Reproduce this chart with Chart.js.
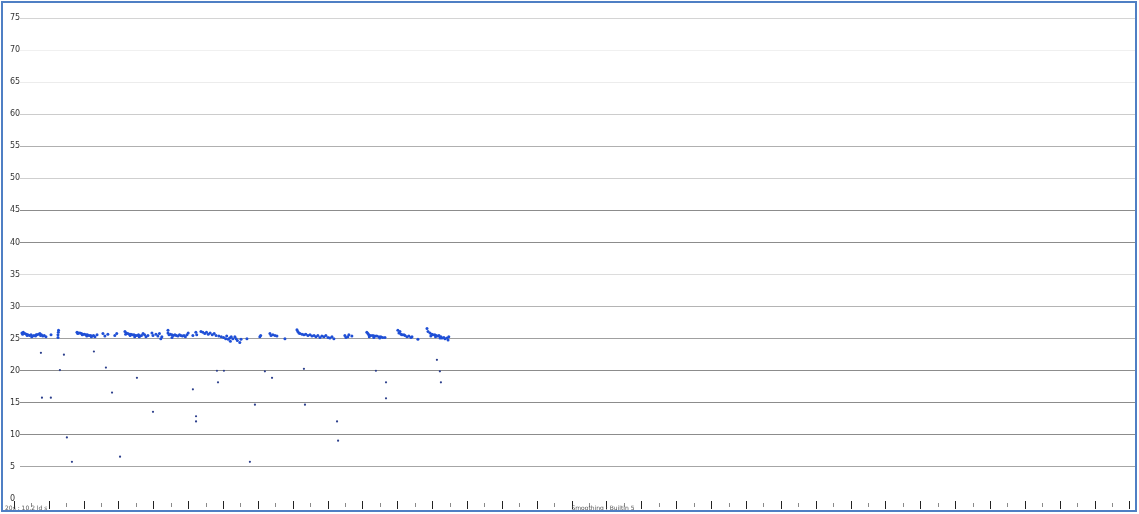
<!DOCTYPE html>
<html>
<head>
<meta charset="utf-8">
<script src="https://cdn.jsdelivr.net/npm/chart.js@4.4.1/dist/chart.umd.min.js"></script>
<style>
  html, body { margin: 0; padding: 0; background: #fff; }
  #wrap { position: relative; width: 1139px; height: 514px; }
  #frame { position: absolute; left: 1px; top: 1px; width: 1136px; height: 511px; border: 2px solid #4f7fc4; box-sizing: border-box; pointer-events: none; }
  canvas { position: absolute; left: 0; top: 0; }
</style>
</head>
<body>
<div id="wrap">
  <canvas id="trace" width="1139" height="514"></canvas>
  <div id="frame"></div>
</div>
<script>
// main band of readings, [sample, value]
const bandPoints = [
  [4.6,25.9],[5.4,26.0],[6.3,25.8],[7.2,25.7],[8.0,25.6],[9.0,25.5],[9.8,25.6],[10.7,25.4],[11.5,25.5],
  [12.4,25.4],[13.2,25.6],[14.1,25.7],[14.9,25.8],[15.8,25.6],[16.6,25.4],[17.4,25.5],[18.4,25.3],
  [5.0,25.7],[7.6,25.5],[10.2,25.3],[12.8,25.6],[15.3,25.5],
  [21.3,25.6],[25.3,25.2],[25.3,25.6],[25.5,26.0],[25.6,26.3],
  [36.2,26.0],[37.0,25.9],[37.9,25.9],[38.8,25.8],[39.6,25.7],[40.5,25.7],[41.4,25.6],[42.2,25.6],
  [43.1,25.5],[44.0,25.5],[44.8,25.4],[45.7,25.5],[46.5,25.3],[47.7,25.6],
  [36.6,25.8],[39.2,25.6],[41.8,25.4],[44.4,25.3],
  [51.1,25.8],[52.2,25.4],[53.9,25.7],[57.9,25.5],[59.0,25.8],
  [63.7,26.1],[64.5,25.9],[65.4,25.8],[66.3,25.7],[67.1,25.7],[68.0,25.6],[68.9,25.6],[69.7,25.5],
  [70.6,25.5],[71.5,25.6],[72.3,25.4],[73.2,25.5],[74.1,25.8],[75.0,25.6],[75.8,25.3],[76.9,25.5],
  [64.1,25.7],[66.7,25.5],[69.3,25.3],[71.9,25.3],
  [79.2,25.9],[79.8,25.5],[81.5,25.7],[82.6,25.4],[83.5,25.8],[84.9,25.3],[84.3,25.0],[90.7,25.2],
  [88.4,26.3],[88.4,25.9],[89.0,25.6],[89.8,25.7],[90.7,25.6],[91.5,25.5],[92.4,25.6],[93.2,25.5],
  [94.1,25.4],[95.0,25.6],[95.8,25.5],[96.7,25.4],[97.6,25.5],[98.4,25.3],[99.3,25.6],[100.0,25.9],
  [102.7,25.5],[104.4,26.0],[104.9,25.6],[107.3,26.1],
  [108.4,26.0],[109.5,25.8],[110.5,26.0],[111.5,25.7],[112.6,25.9],[113.8,25.6],[114.9,25.8],
  [116.0,25.5],[117.6,25.4],[119.0,25.3],
  [120.3,25.2],[121.5,25.0],[122.1,25.4],[123.0,24.9],[123.8,25.1],[124.7,25.3],[125.6,25.0],[124.2,24.6],
  [126.8,25.3],[127.5,25.0],[128.2,24.7],[129.6,24.4],[130.3,24.9],
  [133.7,25.0],[141.1,25.3],[141.6,25.5],
  [146.9,25.8],[147.5,25.5],[148.6,25.6],[149.8,25.5],[150.9,25.4],[155.5,25.0],
  [162.4,26.4],[162.9,26.1],[163.5,25.9],[164.1,25.8],[165.3,25.7],[166.4,25.6],[167.5,25.7],
  [168.7,25.5],[169.9,25.6],[171.0,25.4],[172.2,25.5],[173.3,25.3],[174.4,25.5],[175.6,25.2],
  [176.7,25.4],[177.9,25.3],[179.0,25.5],[180.2,25.2],[181.3,25.1],[182.5,25.3],[183.6,25.0],
  [189.9,25.5],[190.5,25.2],[191.6,25.3],[192.2,25.6],[193.9,25.4],
  [202.5,26.0],[203.1,25.8],[203.6,25.6],[204.8,25.5],[206.0,25.5],[207.1,25.4],[208.2,25.4],
  [209.4,25.3],[210.5,25.3],[211.6,25.2],[212.9,25.2],
  [203.9,25.3],[206.5,25.2],[209.9,25.1],
  [220.3,26.3],[220.9,25.9],[221.5,26.1],[222.1,25.7],[222.7,25.6],[223.8,25.6],[224.4,25.5],
  [225.5,25.3],[226.6,25.4],[227.8,25.2],[228.4,25.3],[231.8,24.9],
  [237.0,26.6],[237.6,26.1],[238.7,25.9],[239.8,25.7],[240.4,25.6],[241.5,25.6],[242.2,25.5],
  [243.3,25.4],[243.9,25.5],[245.0,25.3],[245.6,25.1],[246.7,25.2],[247.3,25.0],[248.5,25.1],
  [249.1,24.8],[249.5,25.3],
  [239.2,25.4],[241.9,25.3],[244.5,25.1]
];

// scattered low readings, [sample, value]
const outlierPoints = [
  [15.5,22.8],[16.1,15.8],[21.2,15.8],[26.4,20.1],[28.7,22.5],[30.4,9.6],[33.3,5.8],
  [45.9,23.0],[52.8,20.5],[56.3,16.6],[60.9,6.6],[70.6,18.9],[79.8,13.6],
  [102.7,17.1],[104.5,12.9],[104.5,12.1],[116.5,20.0],[117.1,18.2],[120.5,20.0],
  [135.4,5.8],[138.3,14.7],[144.0,19.9],[148.1,18.9],[166.4,20.3],[167.0,14.7],
  [185.4,12.1],[186.0,9.1],[207.7,20.0],[213.5,18.2],[213.5,15.7],
  [242.7,21.7],[244.4,19.9],[245.0,18.2]
];

// gridline shade for each 5-step of the value axis, 0 to 75
const gridShades = [
  "rgba(0,0,0,0)", "#a6a6a6", "#8c8c8c", "#8c8c8c", "#8c8c8c", "#a0a0a0", "#b4b4b4", "#dcdcdc",
  "#8c8c8c", "#8c8c8c", "#cfcfcf", "#b0b0b0", "#cccccc", "#ececec", "#f0f0f0", "#d4d4d4"
];

const xTickStep = 10;
const xTickLast = 640;
const leftNote = "20s : 10.2 ld s";
const centerNote = "Smoothing : Builtin 5";

// short/long tick marks under the plot plus the two footer notes
const footerTicks = {
  id: "footerTicks",
  afterDraw(chart) {
    const ctx = chart.ctx;
    const sx = chart.scales.x;
    const bottom = chart.chartArea.bottom;
    ctx.save();
    for (let v = 0; v <= xTickLast; v += xTickStep) {
      const px = Math.round(sx.getPixelForValue(v)) + 0.5;
      const major = v % (xTickStep * 2) === 0;
      ctx.strokeStyle = major ? "#222" : "#8a8a8a";
      ctx.lineWidth = 1;
      ctx.beginPath();
      ctx.moveTo(px, bottom + (major ? 2 : 4));
      ctx.lineTo(px, bottom + (major ? 10 : 8));
      ctx.stroke();
    }
    ctx.font = '6px "DejaVu Sans"';
    ctx.fillStyle = "#555";
    ctx.textBaseline = "middle";
    ctx.textAlign = "left";
    ctx.fillText(leftNote, 5, 508);
    ctx.textAlign = "center";
    ctx.fillText(centerNote, 603, 508);
    ctx.restore();
  }
};

const ctx = document.getElementById("trace").getContext("2d");

new Chart(ctx, {
  type: "scatter",
  data: {
    datasets: [
      {
        label: "band",
        data: bandPoints.map(p => ({ x: p[0], y: p[1] })),
        pointRadius: 1.5,
        pointBorderWidth: 0,
        pointBackgroundColor: "#1f4fd6",
        pointHoverRadius: 0
      },
      {
        label: "low",
        data: outlierPoints.map(p => ({ x: p[0], y: p[1] })),
        pointRadius: 1.1,
        pointBorderWidth: 0,
        pointBackgroundColor: "#2c3f8c",
        pointHoverRadius: 0
      }
    ]
  },
  options: {
    responsive: false,
    animation: false,
    layout: { padding: { left: 10, top: 18, right: 3, bottom: 15 } },
    scales: {
      x: { type: "linear", min: 3.5, max: 643.8, display: false },
      y: {
        min: 0,
        max: 75,
        afterFit: s => { s.width = 10; },
        border: { display: false },
        grid: {
          drawTicks: false,
          color: c => gridShades[Math.round(c.tick.value / 5)] || "#ccc"
        },
        ticks: {
          stepSize: 5,
          crossAlign: "far",
          padding: 0,
          color: "#333",
          font: { family: "DejaVu Sans", size: 8 }
        }
      }
    },
    plugins: {
      legend: { display: false },
      tooltip: { enabled: false }
    }
  },
  plugins: [footerTicks]
});
</script>
</body>
</html>
